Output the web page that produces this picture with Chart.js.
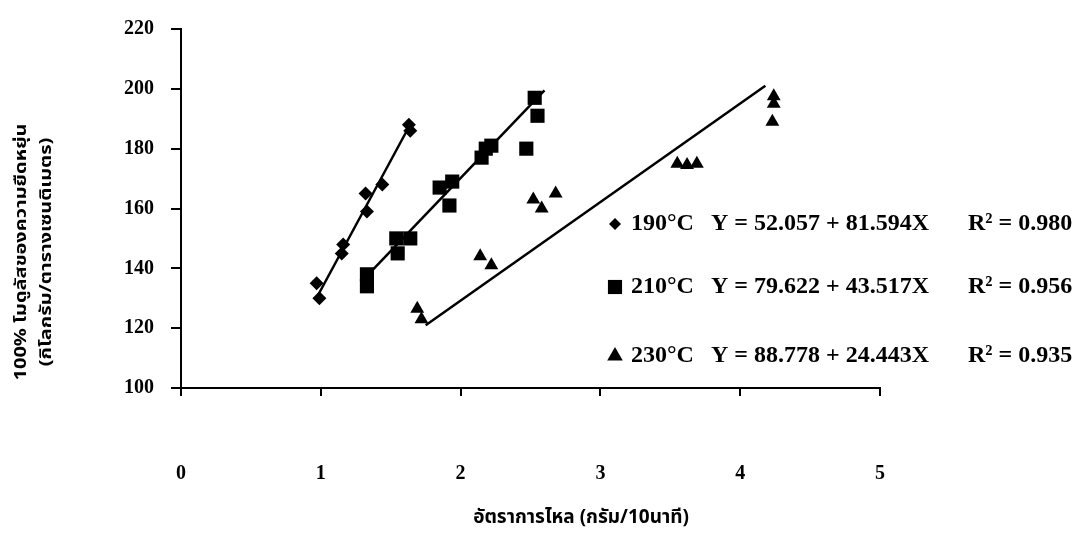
<!DOCTYPE html>
<html>
<head>
<meta charset="utf-8">
<script src="https://cdn.jsdelivr.net/npm/chart.js@4.4.1/dist/chart.umd.min.js"></script>
<style>
  html, body { margin: 0; padding: 0; background: #fff; }
  canvas { display: block; }
</style>
</head>
<body>
<canvas id="chart" width="1084" height="537"></canvas>
<script>
// 190 C - diamonds
const x190 = [0.99, 0.97, 1.15, 1.16, 1.32, 1.33, 1.44, 1.63, 1.64];
const y190 = [130, 135, 145, 148, 165, 159, 168, 188, 186];

// 210 C - squares
const x210 = [1.33, 1.33, 1.55, 1.54, 1.64, 1.85, 1.94, 1.92, 2.15, 2.18, 2.22, 2.47, 2.53, 2.55];
const y210 = [138, 134, 145, 150, 150, 167, 169, 161, 177, 180, 181, 180, 197, 191];

// 230 C - triangles
const x230 = [1.69, 1.72, 2.14, 2.22, 2.52, 2.58, 2.68, 3.55, 3.62, 3.69, 4.24, 4.24, 4.23];
const y230 = [126.5, 123, 144, 141, 163, 160, 165, 175, 174.5, 175, 197.5, 195, 189];

// fitted lines, ends
const fitX190 = [0.98, 1.65];
const fitY190 = [131, 189];
const fitX210 = [1.32, 2.6];
const fitY210 = [137, 199.5];
const fitX230 = [1.75, 4.18];
const fitY230 = [121, 201];

const xTicks = [0, 1, 2, 3, 4, 5];
const yTicks = [100, 120, 140, 160, 180, 200, 220];

const seriesNames = ["190°C", "210°C", "230°C"];
const equations = ["Y = 52.057 + 81.594X", "Y = 79.622 + 43.517X", "Y = 88.778 + 24.443X"];
const rSquared = ["R² = 0.980", "R² = 0.956", "R² = 0.935"];

const xTitle = "อัตราการไหล (กรัม/10นาที)";
const yTitle = ["100% โมดูลัสของความยืดหยุ่น", "(กิโลกรัม/ตารางเซนติเมตร)"];

const serif = '"Liberation Serif", "Times New Roman", serif';
const thai = '"Noto Sans Thai", "Loma", "Garuda", "Norasi", "Tlwg Typo", "DejaVu Sans", sans-serif';

function toPoints(xs, ys) {
  return xs.map((x, i) => ({ x, y: ys[i] }));
}

function markerPath(ctx, style, x, y, r) {
  ctx.beginPath();
  if (style === "rectRot") {
    ctx.moveTo(x, y - r);
    ctx.lineTo(x + r, y);
    ctx.lineTo(x, y + r);
    ctx.lineTo(x - r, y);
  } else if (style === "rect") {
    const s = r * Math.SQRT1_2;
    ctx.rect(x - s, y - s, 2 * s, 2 * s);
  } else {
    const w = r * Math.sqrt(3) / 2;
    ctx.moveTo(x, y - r);
    ctx.lineTo(x + w, y + r / 2);
    ctx.lineTo(x - w, y + r / 2);
  }
  ctx.closePath();
  ctx.fill();
}

const markerStyles = ["rectRot", "rect", "triangle"];
const markerSizes = [6, 10, 9];

// equations block on the right + axis titles
const textLayer = {
  id: "textLayer",
  afterDraw(chart) {
    const { ctx } = chart;
    const rowsY = [224, 287, 356];
    ctx.save();
    ctx.fillStyle = "#000";
    ctx.textBaseline = "middle";
    ctx.textAlign = "left";
    ctx.font = "bold 24px " + serif;
    seriesNames.forEach((name, i) => {
      const y = rowsY[i];
      markerPath(ctx, markerStyles[i], 615, y, markerSizes[i]);
      ctx.fillText(name, 631, y);
      ctx.fillText(equations[i], 711, y);
      ctx.fillText(rSquared[i], 968, y);
    });

    // x title
    ctx.textAlign = "center";
    ctx.font = "bold 19px " + thai;
    ctx.fillText(xTitle, 581, 519);

    // y title, two rotated lines (narrow print font, so stretch a bit)
    ctx.translate(0, 252);
    ctx.rotate(-Math.PI / 2);
    ctx.scale(1.25, 1);
    ctx.font = "bold 16px " + thai;
    ctx.fillText(yTitle[0], 0, 23);
    ctx.fillText(yTitle[1], 0, 48);
    ctx.restore();
  },
};

const scatterBase = {
  type: "scatter",
  showLine: false,
  backgroundColor: "#000",
  borderColor: "#000",
  borderWidth: 0,
};

const lineBase = {
  type: "scatter",
  showLine: true,
  borderColor: "#000",
  borderWidth: 2.5,
  pointRadius: 0,
  fill: false,
};

new Chart(document.getElementById("chart"), {
  type: "scatter",
  data: {
    datasets: [
      { ...lineBase, label: "fit 190", data: toPoints(fitX190, fitY190) },
      { ...lineBase, label: "fit 210", data: toPoints(fitX210, fitY210) },
      { ...lineBase, label: "fit 230", data: toPoints(fitX230, fitY230) },
      { ...scatterBase, label: seriesNames[0], data: toPoints(x190, y190), pointStyle: "rectRot", pointRadius: 7 },
      { ...scatterBase, label: seriesNames[1], data: toPoints(x210, y210), pointStyle: "rect", pointRadius: 10 },
      { ...scatterBase, label: seriesNames[2], data: toPoints(x230, y230), pointStyle: "triangle", pointRadius: 8 },
    ],
  },
  options: {
    responsive: false,
    animation: false,
    layout: { padding: { top: 21, right: 204, left: 0, bottom: 0 } },
    plugins: {
      legend: { display: false },
      tooltip: { enabled: false },
    },
    scales: {
      x: {
        type: "linear",
        min: xTicks[0],
        max: xTicks[xTicks.length - 1],
        afterBuildTicks(scale) { scale.ticks = xTicks.map(v => ({ value: v })); },
        ticks: { color: "#000", font: { family: serif, size: 20, weight: "bold" }, padding: 66 },
        grid: { drawOnChartArea: false, drawTicks: true, tickLength: 8, color: "#000", lineWidth: 2 },
        border: { display: true, color: "#000", width: 2 },
        afterFit(scale) { scale.height = 149; },
      },
      y: {
        type: "linear",
        min: yTicks[0],
        max: yTicks[yTicks.length - 1],
        afterBuildTicks(scale) { scale.ticks = yTicks.map(v => ({ value: v })); },
        ticks: { color: "#000", font: { family: serif, size: 20, weight: "bold" }, padding: 17 },
        grid: { drawOnChartArea: false, drawTicks: true, tickLength: 10, color: "#000", lineWidth: 2 },
        border: { display: true, color: "#000", width: 2 },
        afterFit(scale) { scale.width = 181; },
      },
    },
  },
  plugins: [textLayer],
});
</script>
</body>
</html>
